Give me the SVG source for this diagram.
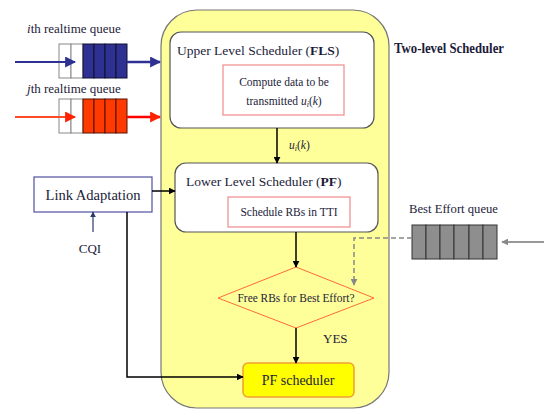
<svg xmlns="http://www.w3.org/2000/svg" width="544" height="410" viewBox="0 0 544 410">
  <style>
    text { font-family: "Liberation Serif", "Times New Roman", serif; fill: #1c1c3a; }
    .lbl { font-size: 13px; }
    .sm { font-size: 11.5px; }
    .sched { fill: #ffffff; stroke: #555555; stroke-width: 1.2; }
    .inner { fill: #ffffff; stroke: #f08a8a; stroke-width: 1.2; }
    .wire { fill: none; stroke: #000000; stroke-width: 1.5; }
    .cellw { fill: #ffffff; stroke: #888888; stroke-width: 1; }
    .cellb { fill: #2e3192; stroke: #111133; stroke-width: 1; }
    .cellr { fill: #ff3a00; stroke: #551100; stroke-width: 1; }
    .cellg { fill: #8e8e8e; stroke: #333333; stroke-width: 1; }
  </style>
  <defs>
    <marker id="ah" viewBox="0 0 10 10" refX="9" refY="5" markerWidth="7" markerHeight="7" markerUnits="userSpaceOnUse" orient="auto">
      <path d="M0,0 L10,5 L0,10 z" fill="#000000"/>
    </marker>
    <marker id="ahBlue" viewBox="0 0 10 10" refX="9" refY="5" markerWidth="11" markerHeight="11" markerUnits="userSpaceOnUse" orient="auto">
      <path d="M0,0 L10,5 L0,10 z" fill="#2e3192"/>
    </marker>
    <marker id="ahRed" viewBox="0 0 10 10" refX="9" refY="5" markerWidth="11" markerHeight="11" markerUnits="userSpaceOnUse" orient="auto">
      <path d="M0,0 L10,5 L0,10 z" fill="#ff2200"/>
    </marker>
    <marker id="ahNavy" viewBox="0 0 10 10" refX="9" refY="5" markerWidth="6" markerHeight="6" markerUnits="userSpaceOnUse" orient="auto">
      <path d="M0,0 L10,5 L0,10 z" fill="#2a3a6a"/>
    </marker>
    <marker id="ahGray" viewBox="0 0 10 10" refX="9" refY="5" markerWidth="7" markerHeight="7" markerUnits="userSpaceOnUse" orient="auto">
      <path d="M0,0 L10,5 L0,10 z" fill="#888888"/>
    </marker>
  </defs>

  <rect width="544" height="410" fill="#ffffff"/>

  <!-- two-level scheduler container -->
  <g id="two-level-scheduler">
    <rect x="161" y="10" width="228" height="398" rx="36" ry="36" fill="#ffff99" stroke="#777777" stroke-width="1.2"/>
    <text x="394" y="53" font-size="14" font-weight="bold" textLength="110" lengthAdjust="spacingAndGlyphs">Two-level Scheduler</text>
  </g>

  <!-- real-time queues -->
  <g id="queue-i">
    <text x="27" y="33" class="lbl"><tspan font-style="italic">i</tspan>th realtime  queue</text>
    <rect x="59" y="44" width="12" height="34" class="cellw"/>
    <rect x="71" y="44" width="12" height="34" class="cellw"/>
    <rect x="83" y="44" width="11" height="34" class="cellb"/>
    <rect x="94" y="44" width="11" height="34" class="cellb"/>
    <rect x="105" y="44" width="11" height="34" class="cellb"/>
    <rect x="116" y="44" width="11" height="34" class="cellb"/>
  </g>
  <g id="queue-j">
    <text x="27" y="93" class="lbl"><tspan font-style="italic">j</tspan>th realtime  queue</text>
    <rect x="59" y="99" width="12" height="34" class="cellw"/>
    <rect x="71" y="99" width="12" height="34" class="cellw"/>
    <rect x="83" y="99" width="11" height="34" class="cellr"/>
    <rect x="94" y="99" width="11" height="34" class="cellr"/>
    <rect x="105" y="99" width="11" height="34" class="cellr"/>
    <rect x="116" y="99" width="11" height="34" class="cellr"/>
  </g>

  <!-- upper level scheduler -->
  <g id="upper-scheduler">
    <rect x="170" y="32" width="204" height="96" rx="11" ry="11" class="sched"/>
    <text x="177" y="55" font-size="13.5px">Upper Level Scheduler (<tspan font-weight="bold">FLS</tspan>)</text>
    <rect x="223" y="65" width="121" height="50" class="inner"/>
    <text x="284" y="86" class="sm" text-anchor="middle">Compute data to be</text>
    <text x="284" y="105" class="sm" text-anchor="middle">transmitted <tspan font-style="italic">u</tspan><tspan font-style="italic" font-size="8" dy="2">i</tspan><tspan dy="-2">(</tspan><tspan font-style="italic">k</tspan>)</text>
  </g>

  <!-- lower level scheduler -->
  <g id="lower-scheduler">
    <rect x="175" y="163" width="203" height="69" rx="11" ry="11" class="sched"/>
    <text x="186" y="186" font-size="13.5px">Lower Level Scheduler (<tspan font-weight="bold">PF</tspan>)</text>
    <rect x="228" y="197" width="122" height="30" class="inner"/>
    <text x="289" y="216" class="sm" text-anchor="middle">Schedule RBs in TTI</text>
  </g>

  <!-- link adaptation -->
  <g id="link-adaptation">
    <rect x="34" y="177" width="118" height="35" fill="#ffffff" stroke="#5050a0" stroke-width="1.2"/>
    <text x="93" y="200" font-size="15" text-anchor="middle" textLength="95" lengthAdjust="spacingAndGlyphs">Link Adaptation</text>
  </g>

  <g id="cqi">
    <text x="90" y="253" class="lbl" text-anchor="middle">CQI</text>
  </g>

  <!-- decision -->
  <g id="free-rbs-decision">
    <polygon points="296,267 374,298 296,328 218,298" fill="none" stroke="#ff6a3a" stroke-width="1"/>
    <text x="296" y="302" class="sm" text-anchor="middle" textLength="117" lengthAdjust="spacingAndGlyphs">Free RBs for Best Effort?</text>
  </g>

  <!-- best effort queue -->
  <g id="best-effort-queue">
    <text x="409" y="213" class="lbl" textLength="89" lengthAdjust="spacingAndGlyphs">Best Effort queue</text>
    <rect x="412" y="225" width="14" height="34" class="cellg"/>
    <rect x="426" y="225" width="14" height="34" class="cellg"/>
    <rect x="440" y="225" width="14" height="34" class="cellg"/>
    <rect x="454" y="225" width="15" height="34" class="cellg"/>
    <rect x="469" y="225" width="14" height="34" class="cellg"/>
    <rect x="483" y="225" width="14" height="34" class="cellg"/>
  </g>

  <!-- PF scheduler -->
  <g id="pf-scheduler">
    <rect x="243" y="363" width="111" height="34" rx="5" ry="5" fill="#ffff00" stroke="#f0a030" stroke-width="1.5"/>
    <text x="298" y="385" font-size="14px" text-anchor="middle">PF scheduler</text>
  </g>

  <!-- connectors -->
  <g id="connectors">
    <line x1="15" y1="62" x2="75" y2="62" stroke="#2e3192" stroke-width="2" marker-end="url(#ahBlue)"/>
    <line x1="127" y1="62" x2="160" y2="62" stroke="#2e3192" stroke-width="2.5" marker-end="url(#ahBlue)"/>
    <line x1="15" y1="117" x2="75" y2="117" stroke="#ff4a2a" stroke-width="2" marker-end="url(#ahRed)"/>
    <line x1="127" y1="117" x2="160" y2="117" stroke="#ff0000" stroke-width="2.5" marker-end="url(#ahRed)"/>

    <line x1="277" y1="128" x2="277" y2="163" class="wire" marker-end="url(#ah)"/>
    <text x="289" y="149" class="sm" font-style="italic">u<tspan font-size="8" dy="2">i</tspan><tspan dy="-2" font-style="normal">(</tspan>k<tspan font-style="normal">)</tspan></text>

    <line x1="152" y1="191" x2="175" y2="191" class="wire" marker-end="url(#ah)"/>
    <line x1="93" y1="232" x2="93" y2="212" stroke="#2a3a6a" stroke-width="1.2" marker-end="url(#ahNavy)"/>

    <line x1="296" y1="232" x2="296" y2="267" class="wire" marker-end="url(#ah)"/>
    <line x1="296" y1="328" x2="296" y2="363" class="wire" marker-end="url(#ah)"/>
    <text x="323" y="343" class="lbl">YES</text>

    <polyline points="127,212 127,377 243,377" class="wire" marker-end="url(#ah)"/>

    <polyline points="412,238 354,238 354,285" fill="none" stroke="#888888" stroke-width="1.5" stroke-dasharray="5,3" marker-end="url(#ahGray)"/>
    <line x1="544" y1="242" x2="502" y2="242" stroke="#999999" stroke-width="2" marker-end="url(#ahGray)"/>
  </g>
</svg>
